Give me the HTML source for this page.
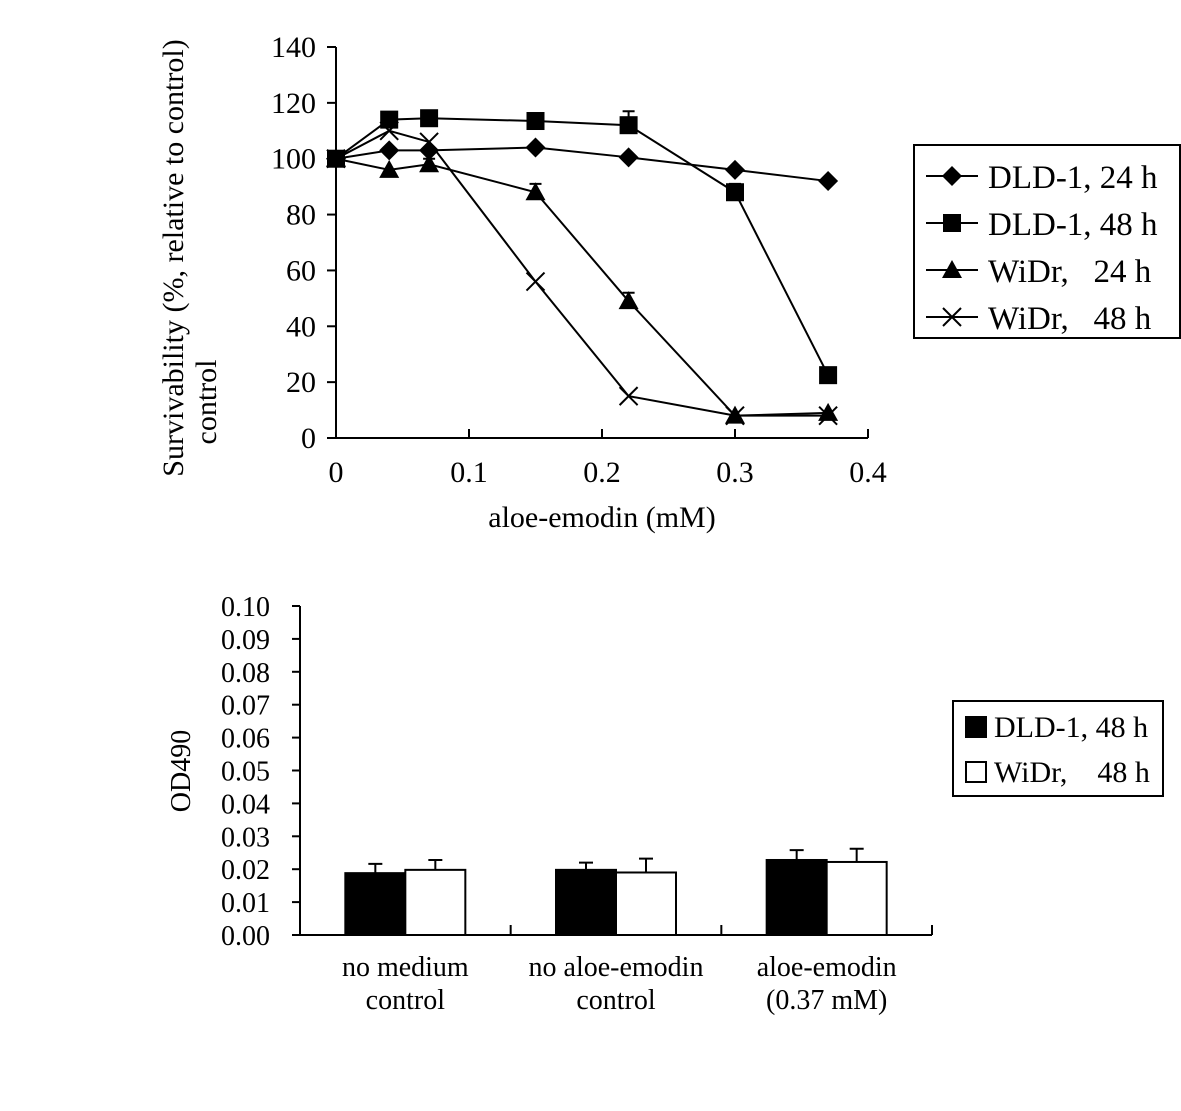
<!DOCTYPE html>
<html><head><meta charset="utf-8">
<style>
html,body{margin:0;padding:0;background:#fff;}
svg{display:block;font-family:"Liberation Serif","DejaVu Serif",serif;}
</style></head>
<body>
<svg id="fig" width="1181" height="1111" viewBox="0 0 1181 1111" xmlns="http://www.w3.org/2000/svg">
<g id="topchart"></g>
<g id="botchart"></g>
</svg>
<script>
// ---- top chart data ----
const xVals = [0, 0.04, 0.07, 0.15, 0.22, 0.30, 0.37];
const dld24 = [100, 103, 103, 104, 100.5, 96, 92];
const dld48 = [100, 114, 114.5, 113.5, 112, 88, 22.5];
const widr24 = [100, 96, 98, 88, 49, 8, 9];
const widr48 = [100, 110, 106, 56, 15, 8, 8];
const dld48Err = [0, 0, 0, 0, 5, 3, 0];
const widr24Err = [0, 0, 2, 3, 3, 0, 0];
const yTicksTop = [0, 20, 40, 60, 80, 100, 120, 140];
const xTicksTop = [0, 0.1, 0.2, 0.3, 0.4];
const topLegend = ["DLD-1, 24 h", "DLD-1, 48 h", "WiDr,   24 h", "WiDr,   48 h"];
// ---- bottom chart data ----
const barCats = [["no medium", "control"], ["no aloe-emodin", "control"], ["aloe-emodin", "(0.37 mM)"]];
const barDld = [0.0188, 0.0198, 0.0228];
const barWidr = [0.0198, 0.0190, 0.0222];
const barDldErr = [0.0028, 0.0022, 0.0030];
const barWidrErr = [0.0030, 0.0042, 0.0040];
const yTicksBot = [0, 0.01, 0.02, 0.03, 0.04, 0.05, 0.06, 0.07, 0.08, 0.09, 0.10];
const botLegend = ["DLD-1, 48 h", "WiDr,    48 h"];

const NS = "http://www.w3.org/2000/svg";
function mk(parent, tag, attrs, text) {
  const e = document.createElementNS(NS, tag);
  for (const k in attrs) e.setAttribute(k, attrs[k]);
  if (text !== undefined) e.textContent = text;
  parent.appendChild(e);
  return e;
}
const topG = document.getElementById('topchart');
const botG = document.getElementById('botchart');

const X0 = 336, X1 = 868, Y0 = 438, Y1 = 47;
const xs = v => X0 + (v / 0.4) * (X1 - X0);
const ys = v => Y0 - (v / 140) * (Y0 - Y1);

let ax = mk(topG, 'path', {d: `M${X0},${Y1}V${Y0}H${X1}`, fill: 'none', stroke: '#000', 'stroke-width': 2});


yTicksTop.forEach(t => {
  mk(topG, 'line', {x1: X0 - 9, x2: X0, y1: ys(t), y2: ys(t), stroke: '#000', 'stroke-width': 2});
  const tx = mk(topG, 'text', {x: X0 - 20, y: ys(t) + 10, 'text-anchor': 'end', 'font-size': 30}, String(t));
  
  
});
xTicksTop.forEach(t => {
  mk(topG, 'line', {x1: xs(t), x2: xs(t), y1: Y0, y2: Y0 - 9, stroke: '#000', 'stroke-width': 2});
  const tx = mk(topG, 'text', {x: xs(t), y: Y0 + 44, 'text-anchor': 'middle', 'font-size': 30}, String(t));
  
  
});
let xt = mk(topG, 'text', {x: 602, y: 527, 'text-anchor': 'middle', 'font-size': 30}, 'aloe-emodin (mM)');


let yt = mk(topG, 'text', {transform: 'translate(183,258) rotate(-90)', 'text-anchor': 'middle', 'font-size': 30}, 'Survivability (%, relative to control)');


let yt2 = mk(topG, 'text', {transform: 'translate(216,402) rotate(-90)', 'text-anchor': 'middle', 'font-size': 30}, 'control');



function marker(g, type, x, y) {
  if (type === 'diamond') mk(g, 'path', {d: `M${x},${y-10}L${x+10},${y}L${x},${y+10}L${x-10},${y}Z`, fill: '#000'});
  else if (type === 'square') mk(g, 'rect', {x: x - 9, y: y - 9, width: 18, height: 18, fill: '#000'});
  else if (type === 'tri') mk(g, 'path', {d: `M${x},${y-10}L${x+10},${y+8}L${x-10},${y+8}Z`, fill: '#000'});
  else mk(g, 'path', {d: `M${x-9},${y-9}L${x+9},${y+9}M${x+9},${y-9}L${x-9},${y+9}`, stroke: '#000', 'stroke-width': 2, fill: 'none'});
}
const series = [[dld24, 'diamond', null], [dld48, 'square', dld48Err], [widr24, 'tri', widr24Err], [widr48, 'x', null]];
const seriesNames = ['dld1-24h', 'dld1-48h', 'widr-24h', 'widr-48h'];
series.forEach((s, i) => {
  const g = mk(topG, 'g', {});
  
  
  const vals = s[0];
  mk(g, 'polyline', {points: vals.map((v, j) => xs(xVals[j]) + ',' + ys(v)).join(' '), fill: 'none', stroke: '#000', 'stroke-width': 2});
  if (s[2]) vals.forEach((v, j) => {
    const e = s[2][j]; if (!e) return;
    const x = xs(xVals[j]);
    mk(g, 'path', {d: `M${x},${ys(v)}V${ys(v + e)}M${x-6},${ys(v + e)}H${x+6}`, stroke: '#000', 'stroke-width': 2});
  });
  vals.forEach((v, j) => marker(g, s[1], xs(xVals[j]), ys(v)));
});
const lg = mk(topG, 'g', {});


mk(lg, 'rect', {x: 914, y: 145, width: 266, height: 193, fill: '#fff', stroke: '#000', 'stroke-width': 2});
topLegend.forEach((t, i) => {
  const y = 176 + i * 47;
  const e = mk(lg, 'g', {});
  
  
  mk(e, 'line', {x1: 926, x2: 978, y1: y, y2: y, stroke: '#000', 'stroke-width': 2});
  marker(e, series[i][1], 952, y);
  const tt = mk(e, 'text', {x: 988, y: y + 12, 'font-size': 33}, t);
  tt.style.whiteSpace = 'pre';
});

const BX0 = 300, BX1 = 932, BY0 = 935, BY1 = 606;
const bys = v => BY0 - (v / 0.10) * (BY0 - BY1);
const gw = (BX1 - BX0) / 3;
let bax = mk(botG, 'path', {d: `M${BX0},${BY1}V${BY0}H${BX1}`, fill: 'none', stroke: '#000', 'stroke-width': 2});


yTicksBot.forEach(t => {
  mk(botG, 'line', {x1: BX0 - 8, x2: BX0, y1: bys(t), y2: bys(t), stroke: '#000', 'stroke-width': 2});
  const tx = mk(botG, 'text', {x: BX0 - 30, y: bys(t) + 10, 'text-anchor': 'end', 'font-size': 28}, t.toFixed(2));
  
  
});
for (let i = 1; i <= 3; i++) mk(botG, 'line', {x1: BX0 + gw * i, x2: BX0 + gw * i, y1: BY0, y2: BY0 - 10, stroke: '#000', 'stroke-width': 2});
let byt = mk(botG, 'text', {transform: 'translate(190,771) rotate(-90)', 'text-anchor': 'middle', 'font-size': 28}, 'OD490');


const bw = 60;
barCats.forEach((c, i) => {
  const cx = BX0 + gw * (i + 0.5);
  const g = mk(botG, 'g', {});
  
  
  [[barDld[i], barDldErr[i], '#000', cx - bw], [barWidr[i], barWidrErr[i], '#fff', cx]].forEach(b => {
    const x = b[3];
    mk(g, 'path', {d: `M${x + bw/2},${bys(b[0])}V${bys(b[0] + b[1])}M${x + bw/2 - 7},${bys(b[0] + b[1])}H${x + bw/2 + 7}`, stroke: '#000', 'stroke-width': 2});
    const r = mk(g, 'rect', {x: x, y: bys(b[0]), width: bw, height: BY0 - bys(b[0]), fill: b[2], stroke: '#000', 'stroke-width': 2});
    
    
  });
  c.forEach((l, k) => {
    const tx = mk(botG, 'text', {x: cx, y: 976 + k * 33, 'text-anchor': 'middle', 'font-size': 28}, l);
    
    
  });
});
const blg = mk(botG, 'g', {});


mk(blg, 'rect', {x: 953, y: 701, width: 210, height: 95, fill: '#fff', stroke: '#000', 'stroke-width': 2});
botLegend.forEach((t, i) => {
  const y = 727 + i * 45;
  const e = mk(blg, 'g', {});
  
  
  mk(e, 'rect', {x: 966, y: y - 10, width: 20, height: 20, fill: i ? '#fff' : '#000', stroke: '#000', 'stroke-width': 2});
  const tt = mk(e, 'text', {x: 994, y: y + 10, 'font-size': 30}, t);
  tt.style.whiteSpace = 'pre';
});
</script>
</body></html>
